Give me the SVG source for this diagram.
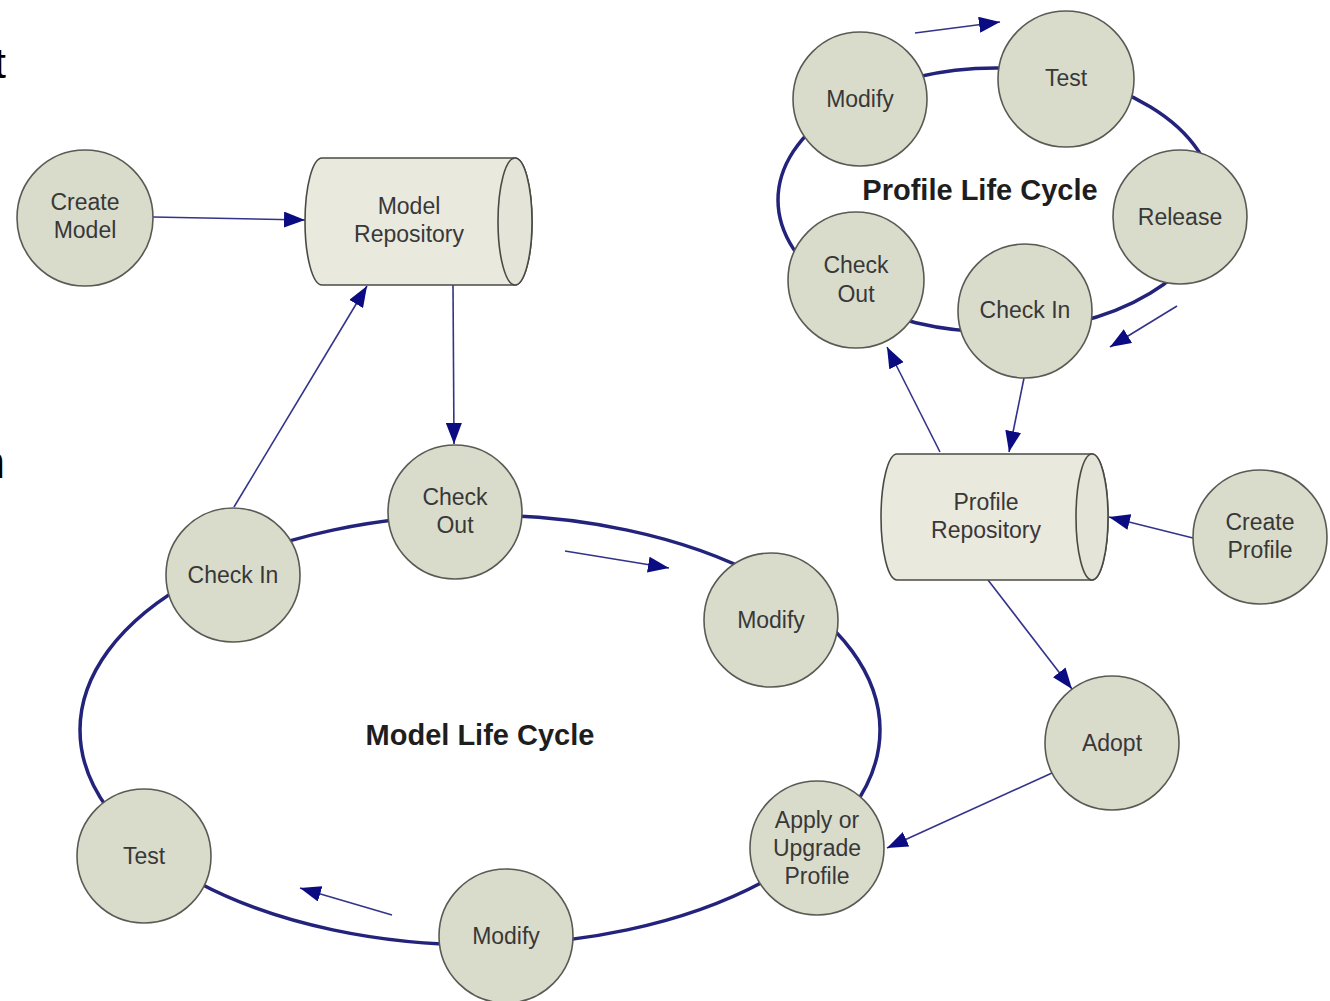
<svg xmlns="http://www.w3.org/2000/svg" width="1330" height="1001" viewBox="0 0 1330 1001">
  <style>
    .node circle { fill: #dadccb; stroke: #5a5a55; stroke-width: 1.6; }
    .repo .body { fill: #e9e9de; stroke: #4a4a45; stroke-width: 1.6; }
    .repo .cap { fill: #e4e5d8; stroke: #4a4a45; stroke-width: 1.6; }
    .label { font-family: "Liberation Sans", Arial, sans-serif; font-size: 23px; fill: #383838; text-anchor: middle; }
    .title { font-family: "Liberation Sans", Arial, sans-serif; font-size: 29px; font-weight: bold; fill: #1e1e1e; text-anchor: middle; }
    .cycle { fill: none; stroke: #23237c; stroke-width: 3.5; }
    .link { fill: none; stroke: #33338a; stroke-width: 1.6; marker-end: url(#head); }
    .edge { font-family: "Liberation Sans", Arial, sans-serif; fill: #000; }
  </style>
  <defs>
    <marker id="head" markerUnits="userSpaceOnUse" markerWidth="22" markerHeight="16" refX="21" refY="8" orient="auto">
      <path d="M0,0 L21,8 L0,16 z" fill="#0c0c82"/>
    </marker>
  </defs>

  <rect width="1330" height="1001" fill="#ffffff"/>

  <!-- clipped letters at the left border -->
  <text class="edge" x="6" y="78" font-size="42" text-anchor="end">t</text>
  <text class="edge" x="5" y="478" font-size="46" text-anchor="end">n</text>

  <!-- life cycle rings and flow arrows -->
  <g id="connectors">
    <ellipse class="cycle" cx="480" cy="730" rx="400" ry="215"/>
    <ellipse class="cycle" cx="996" cy="200" rx="218" ry="132"/>

    <line class="link" x1="565" y1="551" x2="669" y2="568"/>
    <line class="link" x1="392" y1="915" x2="300" y2="888"/>
    <line class="link" x1="915" y1="33" x2="1000" y2="22"/>
    <line class="link" x1="1177" y1="306" x2="1110" y2="347"/>

    <line class="link" x1="153" y1="217" x2="305" y2="220"/>
    <line class="link" x1="453" y1="285" x2="454" y2="444"/>
    <line class="link" x1="234" y1="507" x2="367" y2="286"/>
    <line class="link" x1="1024" y1="378" x2="1009" y2="452"/>
    <line class="link" x1="940" y1="452" x2="887" y2="347"/>
    <line class="link" x1="1193" y1="538" x2="1109" y2="517"/>
    <line class="link" x1="988" y1="580" x2="1072" y2="689"/>
    <line class="link" x1="1052" y1="773" x2="887" y2="848"/>
  </g>

  <!-- labels of the two cycles -->
  <text class="title" x="480" y="745">Model Life Cycle</text>
  <text class="title" x="980" y="200">Profile Life Cycle</text>

  <!-- repositories -->
  <g id="model-repository" class="repo">
    <path class="body" d="M322,158 L515,158 A17,63.5 0 0 1 515,285 L322,285 A17,63.5 0 0 1 322,158 Z"/>
    <ellipse class="cap" cx="515" cy="221.5" rx="17" ry="63.5"/>
    <text class="label" x="409" y="214">Model</text>
    <text class="label" x="409" y="242">Repository</text>
  </g>

  <g id="profile-repository" class="repo">
    <path class="body" d="M897,454 L1092,454 A16,63 0 0 1 1092,580 L897,580 A16,63 0 0 1 897,454 Z"/>
    <ellipse class="cap" cx="1092" cy="517" rx="16" ry="63"/>
    <text class="label" x="986" y="510">Profile</text>
    <text class="label" x="986" y="538">Repository</text>
  </g>

  <!-- model nodes -->
  <g id="create-model" class="node">
    <circle cx="85" cy="218" r="68"/>
    <text class="label" x="85" y="210">Create</text>
    <text class="label" x="85" y="238">Model</text>
  </g>
  <g id="model-check-out" class="node">
    <circle cx="455" cy="512" r="67"/>
    <text class="label" x="455" y="505">Check</text>
    <text class="label" x="455" y="533">Out</text>
  </g>
  <g id="model-check-in" class="node">
    <circle cx="233" cy="575" r="67"/>
    <text class="label" x="233" y="583">Check In</text>
  </g>
  <g id="model-modify-1" class="node">
    <circle cx="771" cy="620" r="67"/>
    <text class="label" x="771" y="628">Modify</text>
  </g>
  <g id="apply-upgrade-profile" class="node">
    <circle cx="817" cy="848" r="67"/>
    <text class="label" x="817" y="828">Apply or</text>
    <text class="label" x="817" y="856">Upgrade</text>
    <text class="label" x="817" y="884">Profile</text>
  </g>
  <g id="model-modify-2" class="node">
    <circle cx="506" cy="936" r="67"/>
    <text class="label" x="506" y="944">Modify</text>
  </g>
  <g id="model-test" class="node">
    <circle cx="144" cy="856" r="67"/>
    <text class="label" x="144" y="864">Test</text>
  </g>

  <!-- profile nodes -->
  <g id="profile-modify" class="node">
    <circle cx="860" cy="99" r="67"/>
    <text class="label" x="860" y="107">Modify</text>
  </g>
  <g id="profile-test" class="node">
    <circle cx="1066" cy="79" r="68"/>
    <text class="label" x="1066" y="86">Test</text>
  </g>
  <g id="profile-release" class="node">
    <circle cx="1180" cy="217" r="67"/>
    <text class="label" x="1180" y="225">Release</text>
  </g>
  <g id="profile-check-in" class="node">
    <circle cx="1025" cy="311" r="67"/>
    <text class="label" x="1025" y="318">Check In</text>
  </g>
  <g id="profile-check-out" class="node">
    <circle cx="856" cy="280" r="68"/>
    <text class="label" x="856" y="273">Check</text>
    <text class="label" x="856" y="302">Out</text>
  </g>
  <g id="create-profile" class="node">
    <circle cx="1260" cy="537" r="67"/>
    <text class="label" x="1260" y="530">Create</text>
    <text class="label" x="1260" y="558">Profile</text>
  </g>
  <g id="adopt" class="node">
    <circle cx="1112" cy="743" r="67"/>
    <text class="label" x="1112" y="751">Adopt</text>
  </g>
</svg>
